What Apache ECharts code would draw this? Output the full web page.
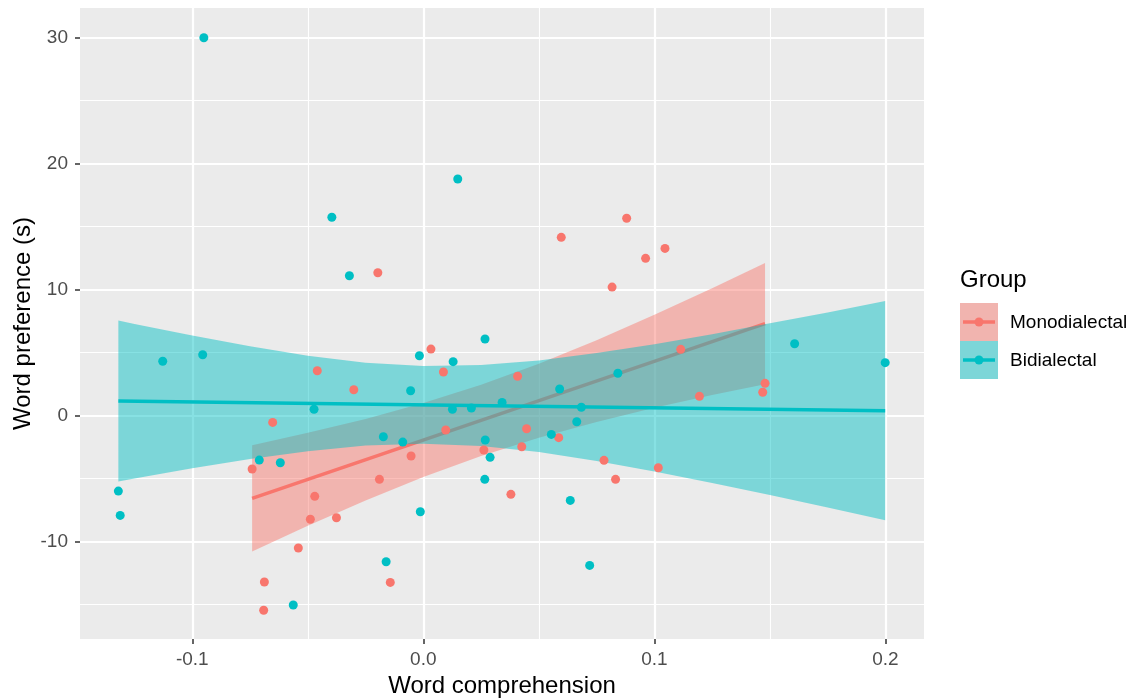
<!DOCTYPE html>
<html><head><meta charset="utf-8">
<script src="https://cdn.jsdelivr.net/npm/echarts@6/dist/echarts.min.js"></script>
<style>html,body{margin:0;padding:0;background:#fff}#c{width:1131px;height:698px}</style>
</head><body><div id="c"></div>
<script>
const groups = ['Monodialectal', 'Bidialectal'];
const colors = ['#F8766D', '#00BFC4'];

// Monodialectal points
const monoX = [-0.0741,-0.0688,-0.0691,-0.0652,-0.0541,-0.0489,-0.0470,-0.0459,-0.0376,-0.0301,-0.0197,-0.0190,-0.0143,-0.0053,0.0033,0.0087,0.0097,0.0262,0.0379,0.0408,0.0426,0.0447,0.0586,0.0597,0.0782,0.0817,0.0832,0.0880,0.0962,0.1017,0.1046,0.1114,0.1195,0.1469,0.1479];
const monoY = [-4.23,-13.20,-15.44,-0.53,-10.50,-8.22,-6.40,3.57,-8.10,2.06,11.35,-5.05,-13.23,-3.20,5.29,3.47,-1.13,-2.72,-6.24,3.13,-2.46,-1.03,-1.74,14.16,-3.54,10.21,-5.05,15.67,12.49,-4.13,13.28,5.27,1.54,1.86,2.57];

// Bidialectal points
const biX = [-0.1320,-0.1312,-0.1128,-0.0955,-0.0950,-0.0710,-0.0619,-0.0563,-0.0473,-0.0396,-0.0320,-0.0173,-0.0161,-0.0089,-0.0055,-0.0017,-0.0013,0.0126,0.0129,0.0149,0.0208,0.0266,0.0267,0.0268,0.0289,0.0341,0.0554,0.0590,0.0636,0.0664,0.0684,0.0720,0.0842,0.1607,0.1999];
const biY = [-5.98,-7.91,4.32,4.84,30.00,-3.52,-3.73,-15.02,0.51,15.75,11.11,-1.67,-11.59,-2.09,1.98,4.76,-7.62,0.51,4.29,18.79,0.61,-5.05,6.09,-1.93,-3.30,1.06,-1.48,2.12,-6.72,-0.48,0.67,-11.88,3.37,5.71,4.21];

// Fitted lines
const monoFitX = [-0.0741, 0.1479];
const monoFitY = [-6.56, 7.31];
const biFitX = [-0.1320, 0.1999];
const biFitY = [1.17, 0.40];

// Confidence bands
const monoBandX = [-0.0741,-0.05,-0.025,0,0.025,0.05,0.075,0.1,0.125,0.1479];
const monoBandLow = [-10.78,-8.74,-6.73,-4.87,-3.20,-1.75,-0.49,0.63,1.64,2.50];
const monoBandHigh = [-2.34,-1.36,-0.25,1.01,2.46,4.13,5.99,8.01,10.12,12.12];
const biBandX = [-0.1320,-0.125,-0.1,-0.075,-0.05,-0.025,0,0.025,0.05,0.075,0.1,0.125,0.15,0.175,0.1999];
const biBandLow = [-5.22,-4.98,-4.17,-3.43,-2.81,-2.37,-2.22,-2.40,-2.88,-3.59,-4.42,-5.33,-6.29,-7.28,-8.30];
const biBandHigh = [7.56,7.28,6.37,5.51,4.77,4.21,3.94,4.02,4.38,4.97,5.68,6.47,7.33,8.20,9.10];

// Axis ticks
const xTicks = [-0.1, 0, 0.1, 0.2];
const xMinorTicks = [-0.05, 0.05, 0.15];
const yTicks = [-10, 0, 10, 20, 30];
const yMinorTicks = [-15, -5, 5, 15, 25];
const xRange = [-0.1486, 0.2167];
const yRange = [-17.72, 32.36];

const FONT = '"Liberation Sans", Arial, sans-serif';
const bandFill = ['rgba(248,118,109,0.47)', 'rgba(0,191,196,0.47)'];

function bandSeries(xs, lo, hi, fill, z) {
  return {
    type: 'custom', xAxisIndex: 0, yAxisIndex: 0, silent: true, z: z,
    data: xs.map((x, i) => [x, lo[i], hi[i]]),
    encode: { x: 0, y: [1, 2] },
    renderItem: function (params, api) {
      if (params.dataIndex !== 0) return null;
      const pts = [];
      for (let i = 0; i < xs.length; i++) pts.push(api.coord([xs[i], hi[i]]));
      for (let i = xs.length - 1; i >= 0; i--) pts.push(api.coord([xs[i], lo[i]]));
      return { type: 'polygon', shape: { points: pts }, style: { fill: fill } };
    }
  };
}
function lineSeries(xs, ys, color, z) {
  return {
    type: 'line', xAxisIndex: 0, yAxisIndex: 0, silent: true, showSymbol: false, z: z,
    data: xs.map((x, i) => [x, ys[i]]),
    lineStyle: { color: color, width: 3.5 }, itemStyle: { color: color }
  };
}
function pointSeries(name, xs, ys, color, z) {
  return {
    name: name, type: 'scatter', xAxisIndex: 0, yAxisIndex: 0, silent: true, z: z,
    symbolSize: 9, data: xs.map((x, i) => [x, ys[i]]),
    itemStyle: { color: color, opacity: 1 }
  };
}

const chart = echarts.init(document.getElementById('c'), null, { renderer: 'canvas' });
const gridLine = (w) => ({ show: true, lineStyle: { color: '#FFFFFF', width: w } });

chart.setOption({
  animation: false,
  backgroundColor: '#FFFFFF',
  grid: { left: 80, right: 207, top: 8, bottom: 59, show: true, backgroundColor: '#EBEBEB', borderWidth: 0,
    containLabel: false, outerBoundsMode: 'none' },
  xAxis: [
    {
      type: 'value', min: xRange[0], max: xRange[1], position: 'bottom',
      axisLine: { show: false, onZero: false },
      axisTick: { show: true, length: 5, customValues: xTicks, lineStyle: { color: '#333333', width: 1.5 } },
      axisLabel: { customValues: xTicks, margin: 11, fontSize: 19, color: '#4D4D4D', fontFamily: FONT,
        formatter: v => v.toFixed(1) },
      splitLine: gridLine(2.2),
      name: 'Word comprehension', nameLocation: 'middle', nameGap: 35, nameMoveOverlap: false,
      nameTextStyle: { fontSize: 24, color: '#000000', fontFamily: FONT }
    },
    {
      type: 'value', min: xRange[0], max: xRange[1], position: 'bottom',
      axisLine: { show: false, onZero: false },
      axisTick: { show: false, customValues: xMinorTicks },
      axisLabel: { show: false, customValues: xMinorTicks },
      splitLine: gridLine(1.1)
    }
  ],
  yAxis: [
    {
      type: 'value', min: yRange[0], max: yRange[1], position: 'left',
      axisLine: { show: false, onZero: false },
      axisTick: { show: true, length: 5, customValues: yTicks, lineStyle: { color: '#333333', width: 1.5 } },
      axisLabel: { customValues: yTicks, margin: 12, fontSize: 19, color: '#4D4D4D', fontFamily: FONT },
      splitLine: gridLine(2.2),
      name: 'Word preference (s)', nameLocation: 'middle', nameGap: 45, nameRotate: 90, nameMoveOverlap: false,
      nameTextStyle: { fontSize: 24, color: '#000000', fontFamily: FONT }
    },
    {
      type: 'value', min: yRange[0], max: yRange[1], position: 'left',
      axisLine: { show: false, onZero: false },
      axisTick: { show: false, customValues: yMinorTicks },
      axisLabel: { show: false, customValues: yMinorTicks },
      splitLine: gridLine(1.1)
    }
  ],
  series: [
    bandSeries(monoBandX, monoBandLow, monoBandHigh, bandFill[0], 2),
    lineSeries(monoFitX, monoFitY, colors[0], 3),
    bandSeries(biBandX, biBandLow, biBandHigh, bandFill[1], 4),
    lineSeries(biFitX, biFitY, colors[1], 5),
    pointSeries(groups[0], monoX, monoY, colors[0], 6),
    pointSeries(groups[1], biX, biY, colors[1], 6)
  ],
  graphic: [
    { type: 'text', left: 960, top: 268, style: { text: 'Group', fontSize: 24, fontFamily: FONT, fill: '#000000' } },
    { type: 'rect', shape: { x: 960, y: 303, width: 38, height: 38 }, style: { fill: '#EBEBEB' } },
    { type: 'rect', shape: { x: 960, y: 303, width: 38, height: 38 }, style: { fill: bandFill[0] } },
    { type: 'line', shape: { x1: 963, y1: 322, x2: 995, y2: 322 }, style: { stroke: colors[0], lineWidth: 3.5 } },
    { type: 'circle', shape: { cx: 979, cy: 322, r: 4.5 }, style: { fill: colors[0] } },
    { type: 'rect', shape: { x: 960, y: 341, width: 38, height: 38 }, style: { fill: '#EBEBEB' } },
    { type: 'rect', shape: { x: 960, y: 341, width: 38, height: 38 }, style: { fill: bandFill[1] } },
    { type: 'line', shape: { x1: 963, y1: 360, x2: 995, y2: 360 }, style: { stroke: colors[1], lineWidth: 3.5 } },
    { type: 'circle', shape: { cx: 979, cy: 360, r: 4.5 }, style: { fill: colors[1] } },
    { type: 'text', x: 1010, y: 323, style: { text: groups[0], fontSize: 19, fontFamily: FONT, fill: '#000000', verticalAlign: 'middle' } },
    { type: 'text', x: 1010, y: 361, style: { text: groups[1], fontSize: 19, fontFamily: FONT, fill: '#000000', verticalAlign: 'middle' } }
  ]
});
</script>
</body></html>
